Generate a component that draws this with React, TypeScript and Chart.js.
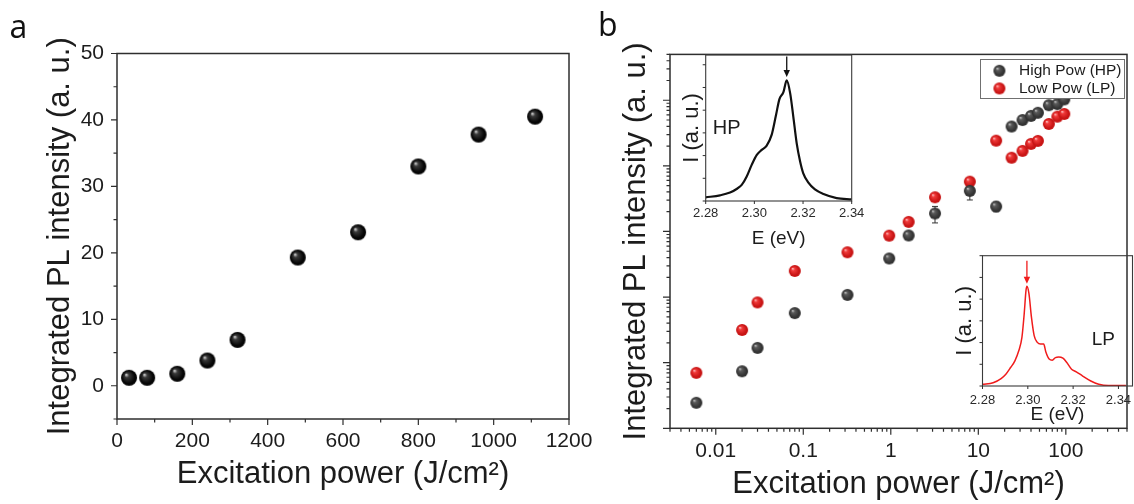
import React, { useEffect, useRef } from 'react';
import { Chart, registerables } from 'chart.js';

Chart.register(...registerables);

const FONT = '"Liberation Sans", Arial, sans-serif';
const TEXT = '#1c1c1c';
const AXIS = '#2e2e2e';

// ---------- Panel a ----------
const aPower = [32, 80, 160, 240, 320, 480, 640, 800, 960, 1110];
const aIntensity = [1.2, 1.2, 1.8, 3.8, 6.9, 19.3, 23.1, 33.0, 37.8, 40.5];
const aXMajor = [0, 200, 400, 600, 800, 1000, 1200];
const aXMinor = [100, 300, 500, 700, 900, 1100];
const aYMajor = [0, 10, 20, 30, 40, 50];
const aYMinor = [-5, 5, 15, 25, 35, 45];

// ---------- Panel b ----------
const bPower = [0.006, 0.02, 0.03, 0.08, 0.32, 0.96, 1.6, 3.2, 8, 16, 24, 32, 40, 48, 64, 80, 96];
const hpIntensity = [2.45, 7.4, 16.8, 57, 108, 388, 870, 1880, 4150, 2400, 39800, 50000, 57700, 64500, 84000, 87500, 103000];
const lpIntensity = [7.0, 31.5, 83, 250, 482, 863, 1400, 3320, 5740, 24200, 13300, 16900, 21600, 24000, 43500, 56200, 61800];
const hpError = [0, 0, 0, 0, 0, 0, 0, 530, 1130, 400, 0, 0, 0, 0, 0, 0, 0];
const seriesNames = ['High Pow (HP)', 'Low Pow (LP)'];
const bXMajor = [0.01, 0.1, 1, 10, 100];
const bXLabels = ['0.01', '0.1', '1', '10', '100'];
const bYMajor = [1, 10, 100, 1000, 10000, 100000];

// ---------- Insets ----------
const hpEnergy = [2.28, 2.2859, 2.29, 2.2927, 2.2948, 2.2968, 2.2989, 2.301, 2.303, 2.305, 2.3071, 2.3089, 2.3103, 2.3119, 2.3133, 2.3147, 2.316, 2.3174, 2.3188, 2.3201, 2.3222, 2.3249, 2.3284, 2.3338, 2.34];
const hpSpectrum = [0.16, 0.25, 0.37, 0.53, 0.71, 1.07, 1.59, 2.03, 2.25, 2.43, 2.91, 3.79, 4.49, 4.78, 5.31, 4.75, 3.72, 2.54, 1.74, 1.22, 0.81, 0.51, 0.31, 0.13, 0.07];
const lpEnergy = [2.28, 2.2847, 2.2882, 2.2903, 2.2924, 2.2943, 2.296, 2.2974, 2.2984, 2.2992, 2.2996, 2.3005, 2.3016, 2.3028, 2.3042, 2.3056, 2.307, 2.308, 2.3094, 2.3108, 2.3122, 2.3136, 2.3155, 2.3172, 2.3193, 2.3214, 2.3242, 2.3278, 2.3313, 2.3355, 2.3433];
const lpSpectrum = [0.08, 0.15, 0.34, 0.54, 0.85, 1.16, 1.62, 2.24, 3.32, 4.4, 4.59, 4.25, 3.17, 2.32, 2.01, 1.93, 1.93, 1.55, 1.24, 1.19, 1.31, 1.34, 1.28, 1.08, 0.77, 0.65, 0.46, 0.23, 0.08, 0.02, 0.02];
const insetXTicks = [2.28, 2.3, 2.32, 2.34];
const insetYTicks = [0, 1, 2, 3, 4, 5, 6];

function logMinors(min: number, max: number, majors: number[]) {
  const out: number[] = [];
  for (let e = -4; e <= 6; e++) {
    for (let s = 1; s <= 9; s++) {
      const v = parseFloat((s * Math.pow(10, e)).toPrecision(6));
      if (v >= min - 1e-12 && v <= max + 1e-9 && !majors.includes(v)) out.push(v);
    }
  }
  return out;
}

function makeSphere(r: number, highlight: string, base: string, edge: string) {
  const c = document.createElement('canvas');
  const s = Math.ceil(2 * r + 2);
  c.width = s;
  c.height = s;
  const g = c.getContext('2d')!;
  const cx = s / 2, cy = s / 2;
  const grad = g.createRadialGradient(cx - 0.38 * r, cy - 0.42 * r, 0, cx, cy, r);
  grad.addColorStop(0, highlight);
  grad.addColorStop(0.28, base);
  grad.addColorStop(0.8, edge);
  grad.addColorStop(1, edge);
  g.fillStyle = grad;
  g.beginPath();
  g.arc(cx, cy, r, 0, Math.PI * 2);
  g.fill();
  return c;
}

function fixBox(size: number) {
  return (s: any) => {
    if (s.isHorizontal()) s.height = size;
    else s.width = size;
    s.paddingLeft = 0;
    s.paddingRight = 0;
    s.paddingTop = 0;
    s.paddingBottom = 0;
  };
}
function setTicks(values: number[]) {
  return (s: any) => {
    s.ticks = [...values].sort((a, b) => a - b).map((v) => ({ value: v }));
  };
}

type TickSpec = { majors: number[]; major: number; minor: number };
function tickMarksPlugin(specs: Record<string, TickSpec>, width = 1.2) {
  return {
    id: 'tickMarks',
    afterDraw(chart: any) {
      const ctx = chart.ctx;
      ctx.save();
      ctx.strokeStyle = AXIS;
      ctx.lineWidth = width;
      ctx.beginPath();
      for (const id of Object.keys(specs)) {
        const s = chart.scales[id];
        const sp = specs[id];
        for (const t of s.ticks) {
          const p = s.getPixelForValue(t.value);
          const len = sp.majors.includes(t.value) ? sp.major : sp.minor;
          if (len <= 0) continue;
          if (s.isHorizontal()) {
            ctx.moveTo(p, s.top);
            ctx.lineTo(p, s.top + len);
          } else {
            ctx.moveTo(s.right, p);
            ctx.lineTo(s.right - len, p);
          }
        }
      }
      ctx.stroke();
      ctx.restore();
    },
  };
}

function framePlugin(color: string, width: number) {
  return {
    id: 'frame',
    afterDraw(chart: any) {
      const { ctx, chartArea: a } = chart;
      ctx.save();
      ctx.strokeStyle = color;
      ctx.lineWidth = width;
      ctx.strokeRect(a.left, a.top, a.right - a.left, a.bottom - a.top);
      ctx.restore();
    },
  };
}

function errorBarPlugin(xs: number[], ys: number[], errs: number[]) {
  return {
    id: 'errBars',
    beforeDatasetsDraw(chart: any) {
      const { ctx } = chart;
      const x = chart.scales.x, y = chart.scales.y;
      ctx.save();
      ctx.strokeStyle = '#333';
      ctx.lineWidth = 1;
      ctx.beginPath();
      errs.forEach((e, i) => {
        if (!e) return;
        const px = x.getPixelForValue(xs[i]);
        const top = y.getPixelForValue(ys[i] + e);
        const bot = y.getPixelForValue(ys[i] - e);
        ctx.moveTo(px, top);
        ctx.lineTo(px, bot);
        ctx.moveTo(px - 3, top);
        ctx.lineTo(px + 3, top);
        ctx.moveTo(px - 3, bot);
        ctx.lineTo(px + 3, bot);
      });
      ctx.stroke();
      ctx.restore();
    },
  };
}

function boxLegendPlugin(images: HTMLCanvasElement[]) {
  return {
    id: 'boxLegend',
    afterDatasetsDraw(chart: any) {
      const ctx = chart.ctx;
      const area = chart.chartArea;
      ctx.save();
      ctx.font = `15.5px ${FONT}`;
      const labels: string[] = chart.data.datasets.map((d: any) => d.label);
      const tw = Math.max(...labels.map((l) => ctx.measureText(l).width));
      const w = 39 + tw + 2.5;
      const h = 39;
      const left = Math.round(area.right - 3.5 - w);
      const top = Math.round(area.top + 4.5);
      ctx.fillStyle = '#fff';
      ctx.fillRect(left, top, w, h);
      ctx.strokeStyle = '#707070';
      ctx.lineWidth = 1;
      ctx.strokeRect(left + 0.5, top + 0.5, w, h);
      labels.forEach((l, i) => {
        const cy = top + 11.8 + i * 17.6;
        const img = images[i];
        ctx.drawImage(img, left + 19.4 - img.width / 2, cy - img.height / 2);
        ctx.fillStyle = TEXT;
        ctx.textBaseline = 'middle';
        ctx.textAlign = 'left';
        ctx.fillText(l, left + 39, cy);
      });
      ctx.restore();
    },
  };
}

type Note = {
  label: string; lx: number; ly: number; size: number;
  peakX: number; peakY: number; arrowFrom: number; gap: number; color: string;
};
function insetNotePlugin(n: Note) {
  return {
    id: 'insetNote',
    afterDatasetsDraw(chart: any) {
      const { ctx } = chart;
      const x = chart.scales.x, y = chart.scales.y;
      ctx.save();
      ctx.fillStyle = TEXT;
      ctx.font = `${n.size}px ${FONT}`;
      ctx.textAlign = 'center';
      ctx.textBaseline = 'middle';
      ctx.fillText(n.label, x.getPixelForValue(n.lx), y.getPixelForValue(n.ly));
      const px = x.getPixelForValue(n.peakX);
      const y1 = y.getPixelForValue(n.arrowFrom);
      const tip = y.getPixelForValue(n.peakY + n.gap);
      ctx.strokeStyle = n.color;
      ctx.fillStyle = n.color;
      ctx.lineWidth = 1.3;
      ctx.beginPath();
      ctx.moveTo(px, y1);
      ctx.lineTo(px, tip - 5);
      ctx.stroke();
      ctx.beginPath();
      ctx.moveTo(px - 3.2, tip - 7);
      ctx.lineTo(px + 3.2, tip - 7);
      ctx.lineTo(px, tip);
      ctx.closePath();
      ctx.fill();
      ctx.restore();
    },
  };
}

function titleOpt(text: string, size: number) {
  return { display: true, text, color: TEXT, font: { family: FONT, size }, padding: 0 };
}

function argmax(a: number[]) {
  let k = 0;
  a.forEach((v, i) => { if (v > a[k]) k = i; });
  return k;
}

export default function App() {
  const aRef = useRef<HTMLCanvasElement>(null);
  const bRef = useRef<HTMLCanvasElement>(null);
  const hpRef = useRef<HTMLCanvasElement>(null);
  const lpRef = useRef<HTMLCanvasElement>(null);

  useEffect(() => {
    const blackBall = makeSphere(8, '#ececec', '#3a3a3a', '#050505');
    const grayBall = makeSphere(6, '#d4d4d4', '#5a5a5a', '#333333');
    const redBall = makeSphere(6, '#ffd4d4', '#f03a3a', '#c81414');

    // ---- Panel a ----
    const chartA = new Chart(aRef.current!, {
      type: 'scatter',
      data: {
        datasets: [{
          data: aPower.map((x, i) => ({ x, y: aIntensity[i] })),
          pointStyle: blackBall as any,
          pointRadius: 8,
        }],
      },
      options: {
        responsive: false,
        animation: false,
        events: [],
        layout: { padding: { left: 41.7, top: 53.5, right: 1134 - 569, bottom: 11.1 } },
        plugins: { legend: { display: false }, tooltip: { enabled: false } },
        scales: {
          x: {
            type: 'linear', min: 0, max: 1200,
            afterBuildTicks: setTicks([...aXMajor, ...aXMinor]),
            afterFit: fixBox(73.9),
            grid: { display: false, drawTicks: false },
            border: { display: false },
            ticks: {
              autoSkip: false, maxRotation: 0, padding: 9.7, color: TEXT,
              font: { family: FONT, size: 21 },
              callback: (v: any) => (aXMajor.includes(v) ? String(v) : ''),
            },
            title: titleOpt('Excitation power (J/cm²)', 31),
          },
          y: {
            type: 'linear', min: -5, max: 50,
            afterBuildTicks: setTicks([...aYMajor, ...aYMinor]),
            afterFit: fixBox(117 - 41.7),
            grid: { display: false, drawTicks: false },
            border: { display: false },
            ticks: {
              autoSkip: false, padding: 13, color: TEXT,
              font: { family: FONT, size: 21 },
              callback: (v: any) => (aYMajor.includes(v) ? String(v) : ''),
            },
            title: titleOpt('Integrated PL intensity (a. u.)', 31),
          },
        },
      },
      plugins: [
        framePlugin(AXIS, 1.5),
        tickMarksPlugin({
          x: { majors: aXMajor, major: 6, minor: 3.5 },
          y: { majors: aYMajor, major: 6, minor: 3.5 },
        }),
      ],
    } as any);

    // ---- Panel b ----
    const bxMin = 0.003, bxMax = 500, byMin = 1, byMax = 500000;
    const chartB = new Chart(bRef.current!, {
      type: 'scatter',
      data: {
        datasets: [
          {
            label: seriesNames[0],
            data: bPower.map((x, i) => ({ x, y: hpIntensity[i] })),
            pointStyle: grayBall as any,
            pointRadius: 6,
          },
          {
            label: seriesNames[1],
            data: bPower.map((x, i) => ({ x, y: lpIntensity[i] })),
            pointStyle: redBall as any,
            pointRadius: 6,
          },
        ],
      },
      options: {
        responsive: false,
        animation: false,
        events: [],
        layout: { padding: { left: 617.4, top: 54.4, right: 1.5, bottom: 1.1 } },
        plugins: { legend: { display: false }, tooltip: { enabled: false } },
        scales: {
          x: {
            type: 'logarithmic', min: bxMin, max: bxMax,
            afterBuildTicks: setTicks([...bXMajor, ...logMinors(bxMin, bxMax, bXMajor)]),
            afterFit: fixBox(74.6),
            grid: { display: false, drawTicks: false },
            border: { display: false },
            ticks: {
              autoSkip: false, maxRotation: 0, padding: 9.9, color: TEXT,
              font: { family: FONT, size: 21 },
              callback: (v: any) => {
                const k = bXMajor.indexOf(v);
                return k >= 0 ? bXLabels[k] : '';
              },
            },
            title: titleOpt('Excitation power (J/cm²)', 31),
          },
          y: {
            type: 'logarithmic', min: byMin, max: byMax,
            afterBuildTicks: setTicks([...bYMajor, ...logMinors(byMin, byMax, bYMajor)]),
            afterFit: fixBox(670 - 617.4),
            grid: { display: false, drawTicks: false },
            border: { display: false },
            ticks: { display: false, autoSkip: false },
            title: titleOpt('Integrated PL intensity (a. u.)', 31),
          },
        },
      },
      plugins: [
        errorBarPlugin(bPower, hpIntensity, hpError),
        boxLegendPlugin([grayBall, redBall]),
        framePlugin(AXIS, 1.5),
        tickMarksPlugin({
          x: { majors: bXMajor, major: 6.5, minor: 3.5 },
          y: { majors: bYMajor, major: 7, minor: 3.5 },
        }),
      ],
    } as any);

    // ---- Inset HP ----
    const hpPeak = argmax(hpSpectrum);
    const chartHP = new Chart(hpRef.current!, {
      type: 'line',
      data: {
        datasets: [{
          data: hpEnergy.map((x, i) => ({ x, y: hpSpectrum[i] })),
          borderColor: '#111',
          borderWidth: 2.2,
          pointRadius: 0,
          cubicInterpolationMode: 'monotone',
          fill: false,
        }],
      },
      options: {
        responsive: false,
        animation: false,
        events: [],
        layout: { padding: { left: 679.2, top: 55, right: 1134 - 851.7, bottom: 254.2 } },
        plugins: { legend: { display: false }, tooltip: { enabled: false } },
        scales: {
          x: {
            type: 'linear', min: 2.28, max: 2.34,
            afterBuildTicks: setTicks(insetXTicks),
            afterFit: fixBox(48.8),
            grid: { display: false, drawTicks: false },
            border: { display: false },
            ticks: {
              autoSkip: false, maxRotation: 0, padding: 4.5, color: '#2a2a2a',
              font: { family: FONT, size: 13 },
              callback: (v: any) => Number(v).toFixed(2),
            },
            title: titleOpt('E (eV)', 19),
          },
          y: {
            type: 'linear', min: 0, max: 6.43,
            afterBuildTicks: setTicks(insetYTicks),
            afterFit: fixBox(705.7 - 679.2),
            grid: { display: false, drawTicks: false },
            border: { display: false },
            ticks: { display: false },
            title: titleOpt('I (a. u.)', 22),
          },
        },
      },
      plugins: [
        framePlugin('#3a3a3a', 1.1),
        tickMarksPlugin({
          x: { majors: insetXTicks, major: 3, minor: 0 },
          y: { majors: insetYTicks, major: 3, minor: 0 },
        }, 1),
        insetNotePlugin({
          label: 'HP', lx: 2.2886, ly: 3.2, size: 20,
          peakX: hpEnergy[hpPeak], peakY: hpSpectrum[hpPeak], arrowFrom: 6.36, gap: 0.15, color: '#111',
        }),
      ],
    } as any);

    // ---- Inset LP ----
    const lpPeak = argmax(lpSpectrum);
    const chartLP = new Chart(lpRef.current!, {
      type: 'line',
      data: {
        datasets: [{
          data: lpEnergy.map((x, i) => ({ x, y: lpSpectrum[i] })),
          borderColor: '#f01c1c',
          borderWidth: 1.5,
          pointRadius: 0,
          cubicInterpolationMode: 'monotone',
          fill: false,
        }],
      },
      options: {
        responsive: false,
        animation: false,
        events: [],
        layout: { padding: { left: 952.2, top: 255.7, right: 1.5, bottom: 77.5 } },
        plugins: { legend: { display: false }, tooltip: { enabled: false } },
        scales: {
          x: {
            type: 'linear', min: 2.28, max: 2.3462,
            afterBuildTicks: setTicks(insetXTicks),
            afterFit: fixBox(40.5),
            grid: { display: false, drawTicks: false },
            border: { display: false },
            ticks: {
              autoSkip: false, maxRotation: 0, padding: 6.7, color: '#2a2a2a',
              font: { family: FONT, size: 13 },
              callback: (v: any) => Number(v).toFixed(2),
            },
            title: titleOpt('E (eV)', 19),
          },
          y: {
            type: 'linear', min: 0, max: 6,
            afterBuildTicks: setTicks(insetYTicks),
            afterFit: fixBox(982.5 - 952.2),
            grid: { display: false, drawTicks: false },
            border: { display: false },
            ticks: { display: false },
            title: titleOpt('I (a. u.)', 22),
          },
        },
      },
      plugins: [
        framePlugin('#3a3a3a', 1.1),
        tickMarksPlugin({
          x: { majors: insetXTicks, major: 3, minor: 0 },
          y: { majors: insetYTicks, major: 3, minor: 0 },
        }, 1),
        insetNotePlugin({
          label: 'LP', lx: 2.3333, ly: 2.12, size: 19,
          peakX: lpEnergy[lpPeak], peakY: lpSpectrum[lpPeak], arrowFrom: 5.77, gap: 0.12, color: '#f01c1c',
        }),
      ],
    } as any);

    return () => {
      chartA.destroy();
      chartB.destroy();
      chartHP.destroy();
      chartLP.destroy();
    };
  }, []);

  const canvasStyle: React.CSSProperties = { position: 'absolute', left: 0, top: 0 };
  const panelLabel: React.CSSProperties = {
    position: 'absolute', font: '32px "Open Sans", sans-serif', lineHeight: 1, color: '#111',
  };
  return (
    <div style={{ position: 'fixed', left: 0, top: 0, width: 1134, height: 504, overflow: 'hidden', background: '#fff' }}>
      <canvas ref={aRef} width={1134} height={504} style={canvasStyle} />
      <canvas ref={bRef} width={1134} height={504} style={canvasStyle} />
      <canvas ref={hpRef} width={1134} height={504} style={canvasStyle} />
      <canvas ref={lpRef} width={1134} height={504} style={canvasStyle} />
      <div style={{ ...panelLabel, left: 9.5, top: 9.6 }}>a</div>
      <div style={{ ...panelLabel, left: 598, top: 8.4 }}>b</div>
    </div>
  );
}
